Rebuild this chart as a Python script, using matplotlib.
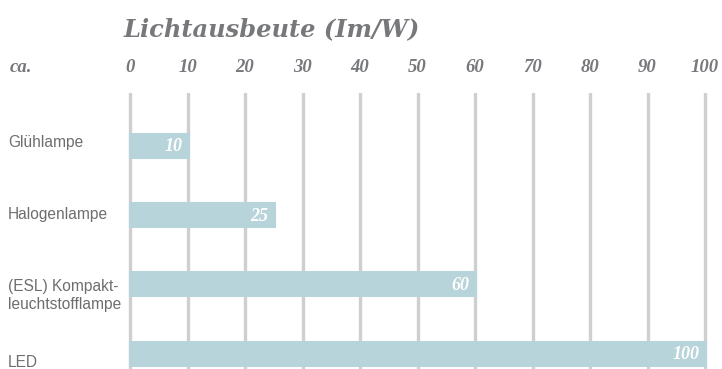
import matplotlib
matplotlib.use("Agg")
import matplotlib.pyplot as plt

# Luminous efficacy of common lamp types (lm/W, approximate)
categories = ["Glühlampe", "Halogenlampe", "(ESL) Kompakt-\nleuchtstofflampe", "LED"]
values = [10, 25, 60, 100]
ticks = [0, 10, 20, 30, 40, 50, 60, 70, 80, 90, 100]
title = "Lichtausbeute (Im/W)"

BAR = "#b6d4d9"
GRID = "#cfcfcf"
HEAD = "#77787b"
LABEL = "#6e6e6e"
SERIF = ["Liberation Serif", "DejaVu Serif"]
WIDE_SERIF = ["DejaVu Serif"]
SANS = ["Liberation Sans", "DejaVu Sans"]

W, H = 722, 369
fig = plt.figure(figsize=(W / 100, H / 100), dpi=100)
fig.patch.set_facecolor("white")

# axes in pixel terms: x=0 at 130px, 57.5px per 10 units
ax_l, ax_r, ax_t, ax_b = 120, 716, 93, 369
ax = fig.add_axes([ax_l / W, 1 - ax_b / H, (ax_r - ax_l) / W, (ax_b - ax_t) / H])
px = 5.75
ax.set_xlim((ax_l - 130) / px, (ax_r - 130) / px)
step = 69.2
ax.set_ylim((ax_b - 145.5) / step, (ax_t - 145.5) / step)
ax.axis("off")

for t in ticks:
    ax.axvline(t, color=GRID, lw=2.4, zorder=1)

ypos = list(range(len(categories)))
ax.barh(ypos, values, height=0.335, color=BAR, edgecolor=BAR, lw=2.2, zorder=2)

for y, v in zip(ypos, values):
    ax.text(v - 0.9, y + 0.02, f"{v}", ha="right", va="center", color="white",
            fontsize=13, fontweight="bold", fontstyle="italic", family=SERIF, zorder=3)

# category labels on the left margin
label_dy = [-0.05, 0.0, 0.17, 0.14]
for y, name, dy in zip(ypos, categories, label_dy):
    fig_y = 1 - (145.5 + (y + dy) * step) / H
    fig.text(8 / W, fig_y, name, ha="left", va="center", color=LABEL,
             fontsize=11.2, family=SANS, linespacing=1.3)

# tick values along the top
for t in ticks:
    fig.text((130 + t * px) / W, 1 - 68 / H, f"{t}", ha="center", va="center",
             color=HEAD, fontsize=13.5, fontweight="bold", fontstyle="italic", family=SERIF)
fig.text(10 / W, 1 - 68 / H, "ca.", ha="left", va="center", color=HEAD,
         fontsize=13.5, fontweight="bold", fontstyle="italic", family=SERIF)

fig.text(124 / W, 1 - 29 / H, title, ha="left", va="center", color=HEAD,
         fontsize=17.4, fontweight="bold", fontstyle="italic", family=WIDE_SERIF)

fig.savefig("out.png", dpi=100)
